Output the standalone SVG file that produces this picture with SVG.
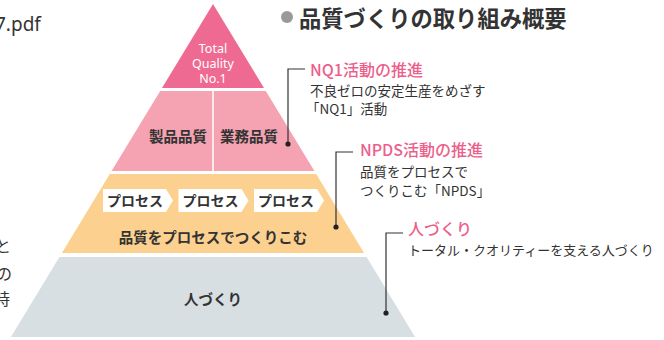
<svg xmlns="http://www.w3.org/2000/svg" width="664" height="340" viewBox="0 0 664 340">
<style>
text{font-family:"Noto Sans CJK JP","Noto Sans",sans-serif;fill:#333}
.lbl{fill:#ec5f8c;font-size:16px;font-weight:500}
.desc{font-size:13.5px}
.tier{font-size:14.5px;font-weight:700;text-anchor:middle}
.proc{font-size:14px;font-weight:700;text-anchor:middle}
.top{fill:#fff;font-size:12.5px;text-anchor:middle;font-family:"Noto Sans",sans-serif}
.lead{fill:none;stroke:#333;stroke-width:1.2}
.dot{fill:#222}
.box{fill:#fff}
</style>
<rect width="664" height="340" fill="#fff"/>
<text x="-5" y="31" style="font-size:19px;font-family:'Noto Sans',sans-serif">7.pdf</text>
<text x="-5" y="252" style="font-size:16px">と</text>
<text x="-4" y="280" style="font-size:16px">の</text>
<text x="-6" y="305" style="font-size:16px">時</text>
<g id="title">
<circle cx="287" cy="17" r="6" fill="#999"/>
<text x="299" y="27" style="font-size:22.3px;font-weight:700">品質づくりの取り組み概要</text>
</g>
<g id="tier-top">
<polygon points="213,4 264,88 162,88" fill="#ef6a93"/>
<text class="top" x="213" y="53">Total</text>
<text class="top" x="213" y="68">Quality</text>
<text class="top" x="213" y="83">No.1</text>
</g>
<g id="tier-quality">
<polygon points="160.2,91 265.8,91 314.4,171 111.6,171" fill="#f5a2b2"/>
<line x1="213" y1="91" x2="213" y2="171" stroke="#fff" stroke-width="1.5"/>
<text class="tier" x="178" y="142">製品品質</text>
<text class="tier" x="249" y="142">業務品質</text>
</g>
<g id="tier-process">
<polygon points="109.8,174 316.2,174 364.1,253 61.9,253" fill="#fcd08f"/>
<polygon class="box" points="103,189 166,189 173,200.5 166,212 103,212"/>
<polygon class="box" points="178.5,189 241.5,189 248.5,200.5 241.5,212 178.5,212"/>
<polygon class="box" points="254,189 317,189 324,200.5 317,212 254,212"/>
<text class="proc" x="135" y="206">プロセス</text>
<text class="proc" x="210.5" y="206">プロセス</text>
<text class="proc" x="286" y="206">プロセス</text>
<text class="tier" x="213" y="243">品質をプロセスでつくりこむ</text>
</g>
<g id="tier-people">
<polygon points="59.4,257 366.6,257 415.1,337 10.9,337" fill="#d8dfe2"/>
<text class="tier" x="213" y="305">人づくり</text>
</g>
<g id="connectors">
<polyline class="lead" points="288,144 288,69 305,69"/>
<circle class="dot" cx="288" cy="144" r="2.6"/>
<polyline class="lead" points="336,227 336,152 353,152"/>
<circle class="dot" cx="336" cy="227" r="2.6"/>
<polyline class="lead" points="386,313 386,233 403,233"/>
<circle class="dot" cx="386" cy="313" r="2.6"/>
</g>
<g id="note-nq1">
<text class="lbl" x="310" y="76">NQ1活動の推進</text>
<text class="desc" x="310" y="96">不良ゼロの安定生産をめざす</text>
<text class="desc" x="306" y="114">「NQ1」活動</text>
</g>
<g id="note-npds">
<text class="lbl" x="360" y="156">NPDS活動の推進</text>
<text class="desc" x="360" y="177">品質をプロセスで</text>
<text class="desc" x="360" y="196">つくりこむ「NPDS」</text>
</g>
<g id="note-people">
<text class="lbl" x="408" y="235">人づくり</text>
<text class="desc" x="408" y="255" style="font-size:13px">トータル・クオリティーを支える人づくり</text>
</g>
</svg>
